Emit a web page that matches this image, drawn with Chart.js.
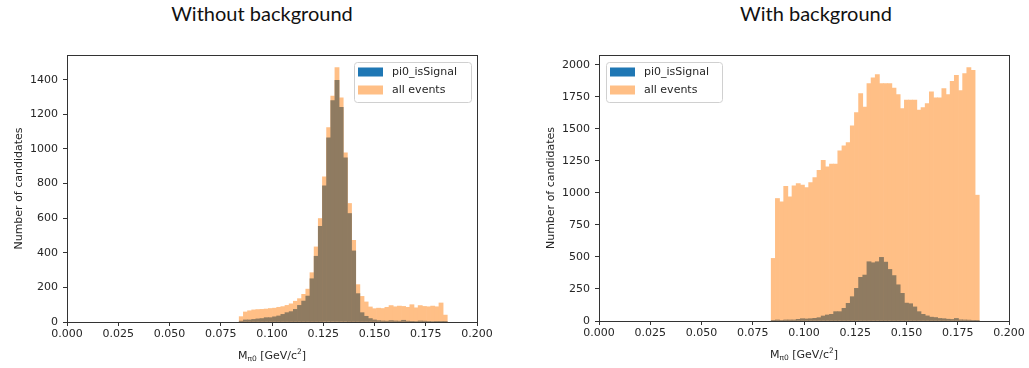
<!DOCTYPE html>
<html>
<head>
<meta charset="utf-8">
<script src="https://cdn.jsdelivr.net/npm/chart.js@4.4.1/dist/chart.umd.min.js"></script>
<style>
    body { margin: 0; background: #fff; width: 1029px; height: 368px; overflow: hidden; position: relative; }
    .title { position: absolute; top: 0; font-family: Lato, 'Open Sans', sans-serif; font-size: 20px; line-height: 26px; color: #111; transform: translateX(-50%); white-space: nowrap; }
    canvas { position: absolute; top: 0; }
</style>
</head>
<body>
<div class="title" style="left:262px">Without background</div>
<div class="title" style="left:816px">With background</div>
<canvas id="noBkgChart" width="514" height="368" style="left:0"></canvas>
<canvas id="bkgChart" width="515" height="368" style="left:514px"></canvas>
<script>
// 50 bins of M(pi0), same binning in both panels
const binLo = 0.084;
const binWidth = 0.00203;
const xTickStep = 0.025;

// Without background
const noBkgSignal = [5, 12, 12, 15, 18, 20, 25, 25, 30, 35,
    44, 54, 60, 73, 96, 121, 150, 250, 380, 553,
    787, 1064, 1280, 1396, 1240, 949, 627, 411, 164, 54,
    33, 20, 12, 8, 6, 5, 8, 6, 5, 10,
    5, 4, 3, 6, 5, 2, 3, 2, 2, 1];
const noBkgAll = [31, 58, 65, 70, 72, 73, 75, 78, 80, 85,
    89, 96, 105, 120, 135, 160, 190, 285, 434, 598,
    839, 1124, 1305, 1470, 1296, 978, 685, 472, 216, 148,
    116, 87, 77, 80, 78, 85, 95, 88, 92, 90,
    85, 100, 82, 95, 90, 88, 92, 88, 110, 40];

// With background
const bkgSignal = [2, 8, 3, 8, 8, 8, 13, 18, 16, 18,
    21, 26, 39, 47, 52, 73, 73, 99, 138, 190,
    255, 341, 359, 463, 455, 463, 497, 460, 403, 355,
    283, 216, 140, 135, 110, 73, 52, 40, 30, 27,
    20, 18, 14, 12, 20, 9, 8, 7, 5, 3];
const bkgAll = [489, 957, 931, 1053, 970, 1056, 1074, 1061, 1043, 1082,
    1121, 1178, 1256, 1204, 1225, 1225, 1329, 1368, 1394, 1524,
    1628, 1776, 1672, 1855, 1899, 1925, 1855, 1855, 1855, 1820,
    1769, 1660, 1725, 1725, 1725, 1647, 1668, 1699, 1790, 1743,
    1743, 1816, 1769, 1873, 1920, 1800, 1932, 1980, 1958, 983];

const seriesLabels = ['pi0_isSignal', 'all events'];
const yAxisLabel = 'Number of candidates';

const BLUE = '#1f77b4';
const ORANGE_A = 'rgba(255, 127, 14, 0.5)';
const ORANGE_ON_WHITE = 'rgb(255, 191, 134)';
const ORANGE_ON_BLUE = 'rgb(143, 123, 97)';
const TEXT = '#262626';
const FONT = 'DejaVu Sans';

const toPoints = counts => counts.map((c, i) => ({ x: binLo + binWidth * (i + 0.5), y: c }));

// frame, legend box and axis titles drawn matplotlib-style
const mplDecor = {
    id: 'mplDecor',
    afterDraw(chart, args, opts) {
        const { ctx, chartArea: a } = chart;
        ctx.save();
        ctx.strokeStyle = '#333';
        ctx.lineWidth = 1;
        ctx.strokeRect(Math.round(a.left) + 0.5, Math.round(a.top) + 0.5, Math.round(a.width), Math.round(a.height));

        // legend
        const w = opts.legendW, h = 40;
        const bx = opts.legendSide === 'right' ? a.right - 6 - w : a.left + 7;
        const by = a.top + 7;
        ctx.beginPath();
        ctx.roundRect(bx + 0.5, by + 0.5, w, h, 3);
        ctx.fillStyle = 'rgba(255,255,255,0.8)';
        ctx.fill();
        ctx.strokeStyle = '#d0d0d0';
        ctx.stroke();
        const rows = [[BLUE, seriesLabels[0]], [ORANGE_A, seriesLabels[1]]];
        ctx.font = '11px ' + FONT;
        ctx.textBaseline = 'middle';
        rows.forEach(([color, label], i) => {
            const cy = by + 10 + i * 18;
            ctx.fillStyle = color;
            ctx.fillRect(bx + 4, cy - 4.5, 25, 9);
            ctx.fillStyle = TEXT;
            ctx.fillText(label, bx + 38, cy);
        });

        // y title
        ctx.save();
        ctx.translate(opts.yTitleX, (a.top + a.bottom) / 2);
        ctx.rotate(-Math.PI / 2);
        ctx.textAlign = 'center';
        ctx.fillStyle = TEXT;
        ctx.font = '11px ' + FONT;
        ctx.fillText(yAxisLabel, 0, 0);
        ctx.restore();

        // x title: M_pi0 [GeV/c^2]
        const parts = [
            ['M', 11, 0], ['\u03c00', 7.5, 3], [' [GeV/c', 11, 0], ['2', 7.5, -4], [']', 11, 0]
        ];
        let total = 0;
        parts.forEach(p => { ctx.font = p[1] + 'px ' + FONT; p.push(ctx.measureText(p[0]).width); total += p[3]; });
        let x = (a.left + a.right) / 2 - total / 2;
        const y = a.bottom + 34;
        ctx.textAlign = 'left';
        ctx.fillStyle = TEXT;
        parts.forEach(p => {
            ctx.font = p[1] + 'px ' + FONT;
            ctx.fillText(p[0], x, y + p[2]);
            x += p[3];
        });
        ctx.restore();
    }
};

const makeChart = (id, signal, all, yMax, yStep, pad, yWidth, xHeight, decor) => new Chart(document.getElementById(id), {
    type: 'bar',
    data: {
        datasets: [
            { label: seriesLabels[0], data: toPoints(signal), backgroundColor: ORANGE_ON_BLUE },
            { label: seriesLabels[1], data: toPoints(all), backgroundColor: ORANGE_ON_WHITE }
        ]
    },
    options: {
        responsive: false,
        animation: false,
        layout: { padding: pad },
        datasets: { bar: { grouped: false, barPercentage: 1, categoryPercentage: 1, borderWidth: 0 } },
        plugins: { legend: { display: false }, tooltip: { enabled: false }, mplDecor: decor },
        scales: {
            x: {
                type: 'linear', min: 0, max: 0.2, offset: false,
                grid: { drawOnChartArea: false, offset: false, tickLength: 4, color: '#333' },
                border: { color: '#333' },
                ticks: { stepSize: xTickStep, callback: v => v.toFixed(3), font: { family: FONT, size: 11 }, color: TEXT, padding: 2, maxRotation: 0, autoSkip: false },
                afterFit: s => { s.height = xHeight; }
            },
            y: {
                min: 0, max: yMax,
                grid: { drawOnChartArea: false, tickLength: 4, color: '#333' },
                border: { color: '#333' },
                ticks: { stepSize: yStep, includeBounds: false, callback: v => String(v), font: { family: FONT, size: 11 }, color: TEXT, padding: 5 },
                afterFit: s => { s.width = yWidth; }
            }
        }
    },
    plugins: [mplDecor]
});

makeChart('noBkgChart', noBkgSignal, noBkgAll, 1543, 200, { top: 55, right: 37, left: 0, bottom: 0 }, 67, 46,
    { legendSide: 'right', legendW: 117, yTitleX: 19 });
makeChart('bkgChart', bkgSignal, bkgAll, 2078, 250, { top: 55, right: 20, left: 0, bottom: 0 }, 85, 47,
    { legendSide: 'left', legendW: 116, yTitleX: 37 });
</script>
</body>
</html>
